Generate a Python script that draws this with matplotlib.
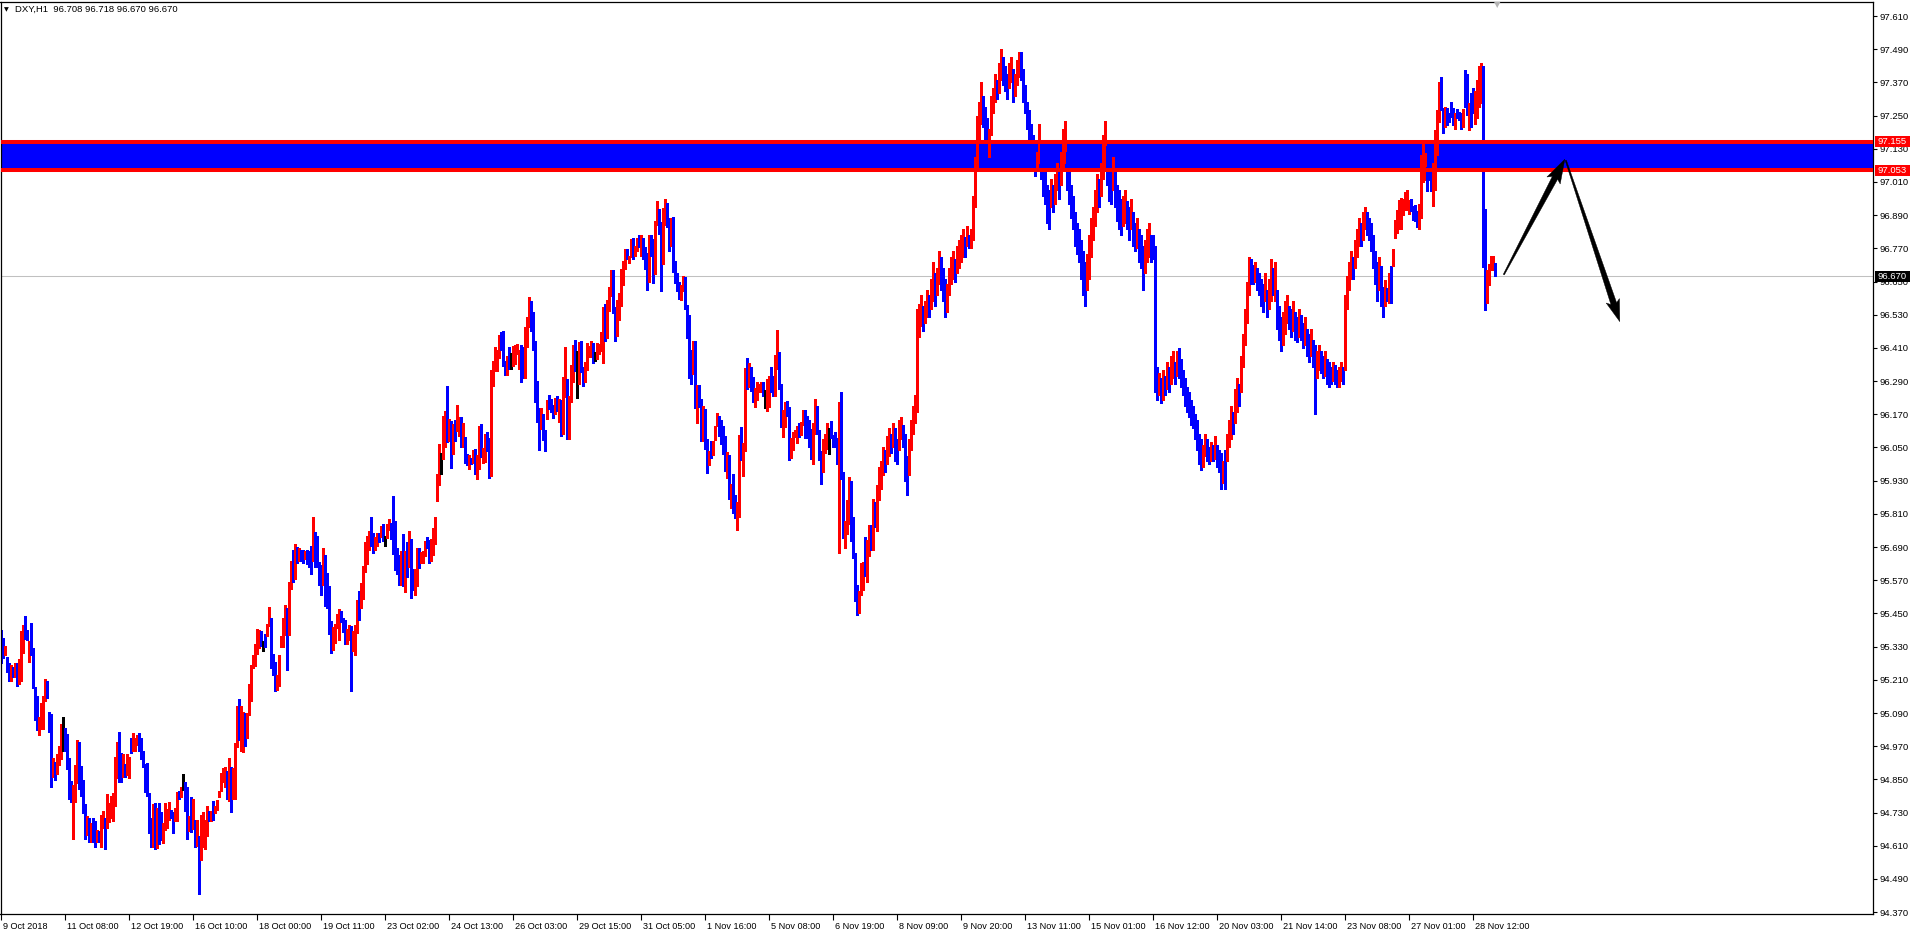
import matplotlib
matplotlib.use("Agg")
import matplotlib.pyplot as plt
from matplotlib.patches import Polygon, Rectangle
from matplotlib.transforms import IdentityTransform, ScaledTranslation, blended_transform_factory
import numpy as np

plt.rcParams['font.family'] = ['Liberation Sans', 'DejaVu Sans']

# ---------------- data ----------------
chart_title = "DXY,H1  96.708 96.718 96.670 96.670"

bar_high = [
    95.389, 95.361, 95.331, 95.291, 95.271, 95.262, 95.258, 95.271, 95.271, 95.286,
    95.385, 95.409, 95.440, 95.391, 95.349, 95.414, 95.325, 95.185, 95.150, 95.074,
    95.126, 95.150, 95.214, 95.204, 95.092, 95.088, 94.929, 94.914, 94.941, 94.972,
    95.052, 95.074, 95.037, 95.013, 94.926, 94.845, 94.830, 94.902, 94.993, 94.987,
    94.900, 94.848, 94.760, 94.717, 94.709, 94.692, 94.709, 94.700, 94.667, 94.663,
    94.721, 94.737, 94.709, 94.796, 94.766, 94.790, 94.802, 94.930, 94.987, 95.023,
    94.944, 94.941, 94.905, 94.941, 94.930, 95.001, 95.019, 94.999, 95.011, 95.019,
    94.999, 94.954, 94.905, 94.911, 94.802, 94.711, 94.760, 94.763, 94.745, 94.763,
    94.733, 94.691, 94.763, 94.742, 94.769, 94.739, 94.733, 94.745, 94.806, 94.809,
    94.824, 94.868, 94.842, 94.824, 94.717, 94.785, 94.781, 94.703, 94.705, 94.646,
    94.723, 94.733, 94.705, 94.754, 94.737, 94.737, 94.773, 94.754, 94.775, 94.808,
    94.874, 94.890, 94.894, 94.882, 94.926, 94.896, 94.890, 94.981, 95.116, 95.140,
    95.114, 95.092, 95.089, 95.089, 95.194, 95.265, 95.301, 95.339, 95.394, 95.391,
    95.388, 95.351, 95.377, 95.412, 95.473, 95.434, 95.303, 95.274, 95.226, 95.301,
    95.367, 95.434, 95.479, 95.470, 95.564,
    95.639, 95.679, 95.701, 95.689, 95.685, 95.679, 95.679, 95.675, 95.679, 95.675,
    95.693, 95.798, 95.744, 95.729, 95.636, 95.624, 95.685, 95.660, 95.596, 95.548,
    95.424, 95.401, 95.412, 95.449, 95.466, 95.460, 95.433, 95.425, 95.394, 95.409,
    95.403, 95.385, 95.409, 95.497, 95.530, 95.560, 95.621, 95.707, 95.729, 95.747,
    95.798, 95.741, 95.726, 95.741, 95.741, 95.765, 95.775, 95.729, 95.774, 95.790,
    95.778, 95.874, 95.784, 95.687, 95.663, 95.675, 95.738, 95.675, 95.708, 95.747,
    95.720, 95.612, 95.611, 95.687, 95.687, 95.671, 95.675, 95.711, 95.726, 95.715,
    95.720, 95.760, 95.800,
    95.955, 96.064, 96.031, 96.164, 96.182, 96.273, 96.152, 96.146, 96.136, 96.150,
    96.204, 96.160, 96.160, 96.140, 96.088, 96.028, 96.023, 96.011, 96.041, 96.046,
    96.023, 96.128, 96.136, 96.049, 96.100, 96.107, 96.085, 96.331, 96.363, 96.415,
    96.403, 96.456, 96.466, 96.470, 96.363, 96.381, 96.412, 96.390, 96.418, 96.421,
    96.424, 96.403, 96.421, 96.415, 96.486, 96.523, 96.593, 96.581, 96.541, 96.436,
    96.291, 96.194, 96.191, 96.172, 96.113, 96.222, 96.240, 96.224, 96.204, 96.230,
    96.236, 96.224, 96.221, 96.305, 96.412, 96.299, 96.236, 96.349, 96.421, 96.439,
    96.400, 96.430,
    96.436, 96.342, 96.358, 96.427, 96.418, 96.436, 96.427, 96.396, 96.427, 96.424,
    96.469, 96.559, 96.567, 96.584, 96.632, 96.690, 96.690, 96.557, 96.584, 96.609,
    96.696, 96.723, 96.768, 96.768, 96.744, 96.802, 96.808, 96.777, 96.808, 96.820,
    96.817, 96.807, 96.774, 96.753, 96.820, 96.817, 96.802, 96.869, 96.940, 96.911,
    96.867, 96.916, 96.950, 96.934, 96.881, 96.880, 96.882, 96.726, 96.680, 96.650,
    96.636, 96.669, 96.666, 96.566, 96.530, 96.404, 96.436, 96.434, 96.277, 96.277,
    96.225, 96.201, 96.189, 96.082, 96.038, 96.072, 96.074, 96.128, 96.174, 96.165,
    96.149, 96.128, 96.092, 96.032, 96.023,
    95.919, 95.955, 95.878, 95.853, 96.095, 96.124, 96.068, 96.336, 96.373, 96.354,
    96.342, 96.306, 96.265, 96.285, 96.281, 96.285, 96.285, 96.259, 96.297, 96.309,
    96.342, 96.309, 96.385, 96.476, 96.396, 96.281, 96.186, 96.213, 96.219, 96.197,
    96.086, 96.106, 96.114, 96.128, 96.137, 96.143, 96.186, 96.186, 96.164, 96.150,
    96.116, 96.137, 96.227, 96.201, 96.114, 96.038, 96.082, 96.098, 96.137, 96.122,
    96.146, 96.095, 96.106, 96.083, 96.213, 96.252, 95.961, 95.784, 95.860, 95.943,
    95.929, 95.798, 95.669, 95.552, 95.530, 95.633, 95.637, 95.726, 95.715, 95.768,
    95.769, 95.865, 95.853, 95.913, 95.981,
    96.00, 96.05, 96.04, 96.09, 96.12, 96.10, 96.14, 96.12, 96.08, 96.15,
    96.16, 96.13, 96.10, 96.02, 96.08, 96.15, 96.20, 96.24, 96.55, 96.57,
    96.60, 96.56, 96.58, 96.62, 96.60, 96.66, 96.72, 96.68, 96.70, 96.76,
    96.74, 96.70, 96.66, 96.64, 96.70, 96.74, 96.76, 96.73, 96.78, 96.80,
    96.82, 96.84, 96.81, 96.85, 96.82, 96.84, 96.96, 97.10, 97.25, 97.30,
    97.37, 97.32, 97.28, 97.24, 97.20, 97.32, 97.35, 97.40, 97.38, 97.44,
    97.49, 97.46, 97.43, 97.40, 97.44, 97.46, 97.42, 97.40, 97.45, 97.48,
    97.48, 97.42, 97.36, 97.30, 97.27, 97.22, 97.18, 97.14, 97.12, 97.22,
    97.15, 97.08, 97.05, 97.00, 96.98, 97.02, 97.00, 97.04, 97.08, 97.06,
    97.12, 97.20, 97.23, 97.12, 97.05, 97.00, 96.96, 96.90, 96.86, 96.84,
    96.80, 96.76, 96.72, 96.75, 96.82, 96.88, 96.92, 96.98, 97.04, 97.02,
    97.08, 97.18, 97.23, 97.14, 97.08, 97.06, 97.10, 97.06, 97.00, 96.98,
    96.95, 96.96, 96.98, 96.94, 96.92, 96.95, 96.90, 96.86, 96.88, 96.84,
    96.82, 96.78, 96.80, 96.84, 96.86, 96.82, 96.82, 96.78, 96.34, 96.32,
    96.30, 96.33, 96.31, 96.36, 96.34, 96.38, 96.40, 96.36, 96.40, 96.41,
    96.37, 96.33, 96.30, 96.27, 96.25, 96.22, 96.20, 96.17, 96.15, 96.10,
    96.08, 96.06, 96.10, 96.08, 96.05, 96.07, 96.06, 96.09, 96.06, 96.04,
    96.03, 96.00, 96.04, 96.10, 96.15, 96.20, 96.18, 96.26, 96.30, 96.28,
    96.38, 96.46, 96.55, 96.65, 96.74, 96.73, 96.71, 96.72, 96.70, 96.68,
    96.66, 96.64, 96.68, 96.62, 96.66, 96.73, 96.70, 96.72, 96.62, 96.56,
    96.52, 96.54, 96.58, 96.60, 96.56, 96.55, 96.58, 96.54, 96.52, 96.55,
    96.53, 96.50, 96.52, 96.48, 96.46, 96.48, 96.44, 96.42, 96.40, 96.42,
    96.40, 96.38, 96.40, 96.37, 96.36, 96.34, 96.36, 96.35, 96.33, 96.34,
    96.36, 96.34, 96.60, 96.67, 96.72, 96.76, 96.74, 96.80, 96.84, 96.88,
    96.86, 96.90, 96.92, 96.90, 96.88, 96.86, 96.82, 96.76, 96.72, 96.74,
    96.705, 96.632, 96.657, 96.627, 96.680, 96.705, 96.769, 96.871, 96.910, 96.946,
    96.953, 96.947, 96.974, 96.980, 96.946, 96.947, 96.922, 96.926, 96.904, 96.929,
    97.107, 97.149, 97.116, 97.064, 97.046, 97.064, 97.079, 97.197, 97.270, 97.370,
    97.390, 97.276, 97.282, 97.276, 97.258, 97.300, 97.276, 97.258, 97.272, 97.264,
    97.258, 97.272, 97.416, 97.400, 97.294, 97.330, 97.350, 97.340, 97.380, 97.430,
    97.440, 97.430, 96.913, 96.690, 96.714, 96.744, 96.744, 96.718,
]

bar_low = [
    95.271, 95.289, 95.301, 95.240, 95.204, 95.204, 95.222, 95.222, 95.186, 95.194,
    95.204, 95.307, 95.359, 95.355, 95.274, 95.301, 95.180, 95.065, 95.029, 95.011,
    95.031, 95.031, 95.132, 95.144, 95.023, 94.823, 94.858, 94.848, 94.868, 94.902,
    94.924, 94.951, 94.953, 94.888, 94.781, 94.767, 94.636, 94.767, 94.836, 94.815,
    94.790, 94.727, 94.636, 94.649, 94.622, 94.622, 94.622, 94.604, 94.624, 94.624,
    94.606, 94.673, 94.598, 94.676, 94.697, 94.709, 94.699, 94.755, 94.854, 94.842,
    94.842, 94.858, 94.858, 94.866, 94.856, 94.944, 94.951, 94.954, 94.975, 94.954,
    94.924, 94.894, 94.803, 94.790, 94.655, 94.604, 94.604, 94.600, 94.603, 94.615,
    94.630, 94.621, 94.667, 94.673, 94.703, 94.709, 94.658, 94.700, 94.699, 94.779,
    94.787, 94.812, 94.737, 94.633, 94.663, 94.661, 94.669, 94.606, 94.610, 94.437,
    94.558, 94.606, 94.597, 94.645, 94.700, 94.700, 94.703, 94.727, 94.739, 94.787,
    94.808, 94.842, 94.824, 94.781, 94.773, 94.733, 94.781, 94.781, 94.966, 94.993,
    94.951, 94.948, 94.972, 94.999, 95.083, 95.135, 95.252, 95.261, 95.303, 95.325,
    95.331, 95.313, 95.327, 95.367, 95.403, 95.252, 95.226, 95.168, 95.174, 95.186,
    95.327, 95.329, 95.371, 95.244, 95.371,
    95.538, 95.564, 95.575, 95.633, 95.639, 95.639, 95.633, 95.647, 95.630, 95.617,
    95.593, 95.639, 95.618, 95.617, 95.552, 95.515, 95.552, 95.476, 95.470, 95.375,
    95.307, 95.319, 95.343, 95.397, 95.355, 95.418, 95.383, 95.339, 95.339, 95.355,
    95.170, 95.315, 95.300, 95.381, 95.425, 95.470, 95.502, 95.600, 95.629, 95.681,
    95.693, 95.669, 95.679, 95.693, 95.708, 95.727, 95.711, 95.693, 95.723, 95.751,
    95.720, 95.665, 95.606, 95.593, 95.552, 95.554, 95.548, 95.528, 95.581, 95.617,
    95.506, 95.534, 95.515, 95.548, 95.615, 95.633, 95.633, 95.657, 95.687, 95.633,
    95.640, 95.660, 95.700,
    95.858, 95.914, 95.955, 96.009, 96.053, 96.071, 96.073, 95.977, 96.028, 96.073,
    96.110, 96.092, 96.052, 96.053, 95.995, 95.985, 95.973, 95.989, 95.995, 95.955,
    95.937, 95.973, 96.016, 95.995, 95.999, 96.037, 95.941, 95.947, 96.273, 96.327,
    96.327, 96.375, 96.403, 96.345, 96.313, 96.313, 96.335, 96.335, 96.343, 96.351,
    96.387, 96.335, 96.287, 96.303, 96.303, 96.412, 96.484, 96.472, 96.403, 96.215,
    96.142, 96.041, 96.118, 96.077, 96.037, 96.154, 96.188, 96.180, 96.158, 96.172,
    96.182, 96.143, 96.092, 96.100, 96.233, 96.082, 96.082, 96.215, 96.287, 96.327,
    96.230, 96.279,
    96.322, 96.271, 96.285, 96.330, 96.378, 96.378, 96.354, 96.364, 96.370, 96.388,
    96.400, 96.354, 96.434, 96.445, 96.543, 96.597, 96.535, 96.434, 96.452, 96.512,
    96.563, 96.638, 96.694, 96.730, 96.716, 96.738, 96.732, 96.742, 96.760, 96.774,
    96.742, 96.732, 96.696, 96.620, 96.650, 96.742, 96.644, 96.678, 96.853, 96.823,
    96.615, 96.714, 96.853, 96.847, 96.760, 96.777, 96.684, 96.644, 96.617, 96.587,
    96.585, 96.614, 96.549, 96.445, 96.300, 96.279, 96.316, 96.191, 96.140, 96.197,
    96.074, 96.074, 96.046, 95.959, 95.986, 96.011, 96.023, 96.078, 96.126, 96.092,
    96.062, 96.028, 95.965, 95.938, 95.865,
    95.832, 95.814, 95.796, 95.751, 95.798, 96.005, 95.947, 96.038, 96.263, 96.269,
    96.255, 96.216, 96.197, 96.221, 96.249, 96.249, 96.237, 96.191, 96.182, 96.195,
    96.249, 96.237, 96.237, 96.333, 96.261, 96.124, 96.088, 96.124, 96.164, 96.005,
    96.013, 96.041, 96.089, 96.068, 96.089, 96.094, 96.132, 96.086, 96.086, 96.053,
    96.010, 95.989, 96.100, 96.098, 96.005, 95.917, 95.963, 96.029, 96.044, 96.025,
    96.086, 96.050, 96.050, 95.989, 95.669, 95.935, 95.723, 95.685, 95.739, 95.772,
    95.711, 95.651, 95.496, 95.446, 95.452, 95.515, 95.536, 95.587, 95.564, 95.657,
    95.681, 95.678, 95.763, 95.748, 95.859,
    95.90, 95.95, 95.96, 95.99, 96.02, 96.03, 96.05, 96.00, 95.99, 96.04,
    96.08, 96.05, 95.93, 95.88, 95.95, 96.04, 96.10, 96.14, 96.18, 96.45,
    96.49, 96.47, 96.50, 96.52, 96.52, 96.55, 96.58, 96.56, 96.60, 96.64,
    96.62, 96.58, 96.52, 96.54, 96.60, 96.64, 96.66, 96.65, 96.68, 96.70,
    96.72, 96.74, 96.74, 96.78, 96.77, 96.77, 96.80, 96.92, 97.05, 97.15,
    97.22, 97.21, 97.15, 97.05, 97.10, 97.18, 97.26, 97.30, 97.31, 97.33,
    97.38, 97.36, 97.34, 97.31, 97.35, 97.37, 97.30, 97.32, 97.36, 97.39,
    97.38, 97.30, 97.26, 97.20, 97.16, 97.10, 97.08, 97.03, 97.05, 97.08,
    97.02, 96.96, 96.93, 96.86, 96.84, 96.92, 96.90, 96.93, 96.98, 96.95,
    97.00, 97.06, 97.08, 96.98, 96.93, 96.88, 96.84, 96.78, 96.75, 96.72,
    96.66, 96.60, 96.56, 96.62, 96.66, 96.74, 96.80, 96.85, 96.90, 96.92,
    96.96, 97.02, 97.06, 97.00, 96.94, 96.93, 96.98, 96.92, 96.87, 96.84,
    96.82, 96.85, 96.86, 96.84, 96.80, 96.84, 96.78, 96.76, 96.77, 96.72,
    96.70, 96.62, 96.68, 96.72, 96.74, 96.72, 96.73, 96.25, 96.22, 96.24,
    96.21, 96.22, 96.24, 96.26, 96.25, 96.28, 96.30, 96.28, 96.31, 96.30,
    96.27, 96.24, 96.20, 96.18, 96.16, 96.13, 96.12, 96.08, 96.04, 95.99,
    95.97, 95.98, 96.02, 96.00, 95.99, 96.00, 96.00, 96.01, 95.98, 95.96,
    95.90, 95.92, 95.90, 96.00, 96.05, 96.08, 96.10, 96.14, 96.18, 96.20,
    96.25, 96.34, 96.42, 96.50, 96.60, 96.64, 96.64, 96.65, 96.62, 96.60,
    96.56, 96.54, 96.58, 96.52, 96.55, 96.58, 96.60, 96.58, 96.48, 96.44,
    96.40, 96.42, 96.46, 96.50, 96.48, 96.45, 96.47, 96.44, 96.43, 96.45,
    96.44, 96.41, 96.42, 96.38, 96.36, 96.38, 96.34, 96.17, 96.30, 96.33,
    96.32, 96.30, 96.31, 96.28, 96.27, 96.28, 96.29, 96.28, 96.27, 96.27,
    96.29, 96.28, 96.33, 96.55, 96.62, 96.66, 96.66, 96.70, 96.74, 96.78,
    96.78, 96.80, 96.84, 96.82, 96.80, 96.76, 96.70, 96.64, 96.58, 96.62,
    96.563, 96.523, 96.563, 96.578, 96.572, 96.572, 96.705, 96.807, 96.825, 96.841,
    96.841, 96.892, 96.907, 96.910, 96.895, 96.904, 96.874, 96.868, 96.847, 96.841,
    96.880, 97.010, 97.016, 96.976, 97.016, 96.977, 96.923, 96.982, 97.107, 97.227,
    97.270, 97.188, 97.209, 97.215, 97.227, 97.246, 97.215, 97.203, 97.240, 97.234,
    97.203, 97.207, 97.282, 97.252, 97.197, 97.209, 97.258, 97.221, 97.240, 97.282,
    97.294, 96.702, 96.548, 96.572, 96.639, 96.690, 96.690, 96.670,
]

# u = close above open (red), d = close below open (blue), n = unchanged (black)
bar_dir = (
    "dduddududu" "uudduddddu" "uuuddduduu" "undddduuud" "dddududdud"
    "uuduuuuuud" "duduuduuud" "ddddddudud" "duuuudduud" "unddududud"
    "uuuududuuu" "uuududuuud" "uuduuuuuuu" "dnduuddduu" "uuudu"
    "udududdudd" "dudddduddd" "duuuuddduu" "duuuduuuuu" "dduududnuu"
    "dddddududu" "dduuduuudd"
    "uuu"
    "uunuududud" "uududdudud" "uuduudduuu" "uudddudnuu" "uudduuuddd"
    "dduddudddu" "duduuduuud" "nu"
    "dduuuudnuu" "uuduuudduu" "uuuduuduud" "udddudduud" "duuddudddd"
    "uuddddudud" "dudduduuud" "dddud"
    "udduuduudu" "dduuuudnuu" "dduudduudd" "uuuuduuddd" "duuddduuun"
    "ddddudduuu" "dddduuuduu" "duduu"
    "uuduududdu" "uddduuuuuu" "uduuduuduu" "ddduuuuduu" "uududuuuuu"
    "uddduuuudu" "uddduuduuu" "dddddddduu" "ddddduduud" "uuuddddddd"
    "ddduuuuuud" "uuuddduddd" "duudduddud" "dduuuddddu" "dududuudud"
    "dddddddddd" "duuddududd" "duduuuduud" "uuuuuddudd" "dduduududd"
    "duuudduddu" "dduddudduu" "dduddduddu" "uduuuuduuu" "duuddddddu"
    "ddududuuuu" "uuuuuddddu" "uuuddduuuu" "dduddddudd" "duddudduuu"
    "udduuuud"
)

time_labels = [
    "9 Oct 2018", "11 Oct 08:00", "12 Oct 19:00", "16 Oct 10:00", "18 Oct 00:00",
    "19 Oct 11:00", "23 Oct 02:00", "24 Oct 13:00", "26 Oct 03:00", "29 Oct 15:00",
    "31 Oct 05:00", "1 Nov 16:00", "5 Nov 08:00", "6 Nov 19:00", "8 Nov 09:00",
    "9 Nov 20:00", "13 Nov 11:00", "15 Nov 01:00", "16 Nov 12:00", "20 Nov 03:00",
    "21 Nov 14:00", "23 Nov 08:00", "27 Nov 01:00", "28 Nov 12:00",
]
bars_per_label = 32

price_ticks = [94.370, 94.490, 94.610, 94.730, 94.850, 94.970, 95.090, 95.210,
               95.330, 95.450, 95.570, 95.690, 95.810, 95.930, 96.050, 96.170,
               96.290, 96.410, 96.530, 96.650, 96.770, 96.890, 97.010, 97.130,
               97.250, 97.370, 97.490, 97.610]

zone_top = 97.155
zone_bottom = 97.053
last_price = 96.670

# forecast arrows: (bar index, price) points tail -> tip
arrow_up = [(751.5, 96.675), (782.0, 97.092)]
arrow_down = [(782.5, 97.088), (809.5, 96.505)]
shift_marker_bar = 748

# ---------------- figure ----------------
W, H = 1915, 936
fig = plt.figure(figsize=(W / 100, H / 100), dpi=100)
fig.patch.set_facecolor('white')

ax_left_px, ax_right_px, ax_top_px, ax_bot_px = 0.5, 1873.0, 1.5, 914.0
ax = fig.add_axes([ax_left_px / W, (H - ax_bot_px) / H,
                   (ax_right_px - ax_left_px) / W, (ax_bot_px - ax_top_px) / H])
ax.set_facecolor('white')

px_per_bar = 2.0
px_per_unit = 276.6
ax.set_xlim(-0.15, -0.15 + (ax_right_px - ax_left_px) / px_per_bar)
ax.set_ylim(97.610 - (ax_bot_px - 16.0) / px_per_unit,
            97.610 + (16.0 - ax_top_px) / px_per_unit)

n = min(len(bar_high), len(bar_low), len(bar_dir))
idx = np.arange(n)
cmap = {'u': '#FF0000', 'd': '#0000FF', 'n': '#000000'}
cols = [cmap[c] for c in bar_dir[:n]]

# zone
ax.axhspan(zone_bottom, zone_top, color='#0000FF', lw=0, zorder=1)
ax.axhline(last_price, color='#C0C0C0', lw=0.75, zorder=1.5)
ax.vlines(idx, bar_low[:n], bar_high[:n], colors=cols, linewidth=0.8,
          antialiased=False, zorder=2)
ax.axhline(zone_top, color='#FF0000', lw=2.9, zorder=3)
ax.axhline(zone_bottom, color='#FF0000', lw=2.9, zorder=3)

for s in ax.spines.values():
    s.set_color('black')
    s.set_linewidth(0.9)

# y axis on right
ax.yaxis.tick_right()
ax.set_yticks(price_ticks)
ax.set_yticklabels([f"{p:.3f}" for p in price_ticks])
ax.tick_params(axis='y', which='both', right=True, left=False, labelright=True,
               labelleft=False, length=3, width=0.8, pad=2, labelsize=6.8,
               colors='black')

# x axis labels
xt = [k * bars_per_label for k in range(len(time_labels))]
ax.set_xticks(xt)
ax.set_xticklabels(time_labels, ha='left')
ax.tick_params(axis='x', which='both', bottom=True, top=False, length=4,
               width=0.8, pad=2, labelsize=6.6, colors='black')
off = ScaledTranslation(2 / 100, 0, fig.dpi_scale_trans)
for lab in ax.get_xticklabels():
    lab.set_transform(lab.get_transform() + off)

# price labels on right axis
bt = blended_transform_factory(ax.transAxes, ax.transData)
axw = ax_right_px - ax_left_px
box_h = 11 / px_per_unit
for price, fc in [(zone_top, '#FF0000'), (zone_bottom, '#FF0000'), (last_price, '#000000')]:
    ax.add_patch(Rectangle((1 + 2 / axw, price - box_h / 2), 35 / axw, box_h,
                           transform=bt, facecolor=fc, edgecolor=fc, lw=0,
                           clip_on=False, zorder=10))
    ax.text(1 + 5 / axw, price, f"{price:.3f}", transform=bt, color='white',
            fontsize=6.8, ha='left', va='center', zorder=11, clip_on=False)

# title
fig.text(3.5 / W, 1 - 9.5 / H, "\u25bc", fontsize=4.5, color='black',
         ha='left', va='center', family='DejaVu Sans')
fig.text(15 / W, 1 - 9.5 / H, chart_title, fontsize=6.8, color='black',
         ha='left', va='center')

# chart shift marker
ax.text(shift_marker_bar, 1 - 3.5 / (ax_bot_px - ax_top_px), "\u25bc",
        transform=blended_transform_factory(ax.transData, ax.transAxes),
        fontsize=6, color='#B4B4B4', ha='center', va='center',
        family='DejaVu Sans', clip_on=False)


def tapered_arrow(p_tail, p_tip, w_tail, w_neck, w_head, head_len, sweep):
    a = ax.transData.transform(p_tail)
    b = ax.transData.transform(p_tip)
    d = b - a
    L = np.hypot(*d)
    u = d / L
    nrm = np.array([-u[1], u[0]])
    neck = a + u * (L - head_len)
    barb = a + u * (L - head_len - sweep)
    pts = [a + nrm * w_tail / 2, neck + nrm * w_neck / 2, barb + nrm * w_head / 2, b,
           barb - nrm * w_head / 2, neck - nrm * w_neck / 2, a - nrm * w_tail / 2]
    fig.patches.append(Polygon(pts, closed=True, transform=IdentityTransform(),
                               facecolor='black', edgecolor='black', lw=0.3,
                               figure=fig, zorder=20))


tapered_arrow(arrow_up[0], arrow_up[1], 1.2, 6, 15, 21, 3)
tapered_arrow(arrow_down[0], arrow_down[1], 1.2, 6, 14, 19, 3)

print(len(bar_high), len(bar_low), len(bar_dir))
fig.savefig("out.png", dpi=100, facecolor='white')
